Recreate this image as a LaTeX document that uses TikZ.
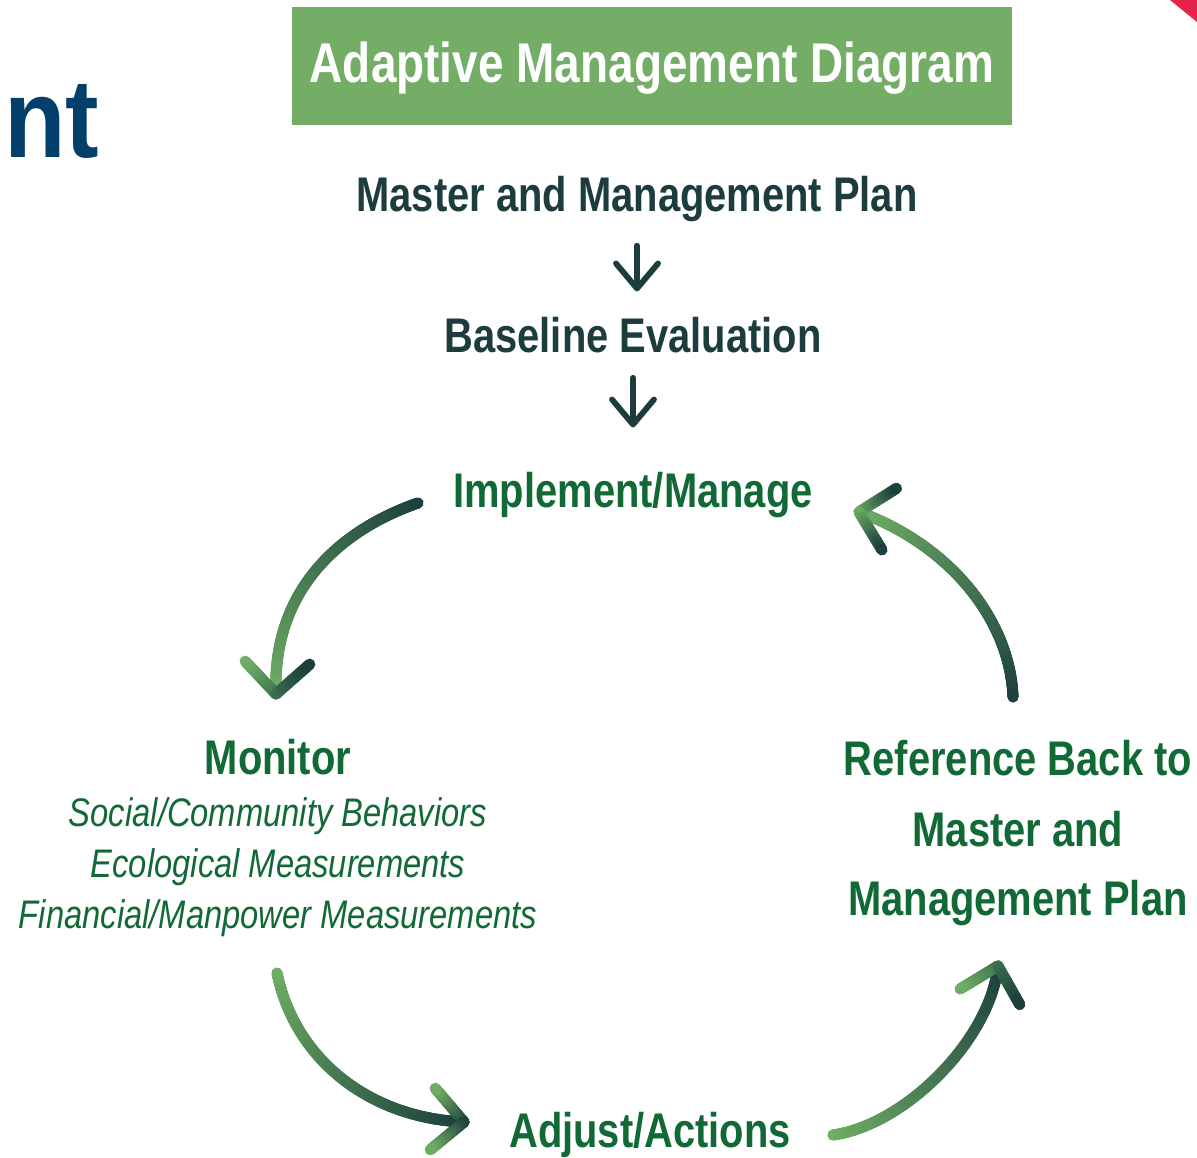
\documentclass[tikz,border=0pt]{standalone}
\usepackage{fontspec}
\setmainfont{Liberation Sans}
\newfontfamily\amnarrow{Liberation Sans}[FakeStretch=0.82]
\newfontfamily\amwide{Liberation Sans}[FakeStretch=0.9]
\usetikzlibrary{arrows.meta}
\usetikzlibrary{decorations.markings}
\definecolor{amink}{HTML}{1C3C3E}
\definecolor{amgreen}{HTML}{116A35}
\definecolor{amtitle}{HTML}{74AD66}
\definecolor{amnavy}{HTML}{023F6A}
\definecolor{amred}{HTML}{E8234A}
\definecolor{amdark}{HTML}{1B3F3D}
\definecolor{amlight}{HTML}{6FAE64}
\definecolor{ammid}{HTML}{3C6F4F}
\tikzset{
  amlabel/.style={anchor=base, inner sep=0pt,
    font=\amnarrow\bfseries\fontsize{27.7pt}{30pt}\selectfont},
  amhead/.style={amlabel, text=amink},
  amstep/.style={amlabel, text=amgreen},
  amitem/.style={anchor=base, inner sep=0pt, text=amgreen,
    font=\amnarrow\itshape\fontsize{22.7pt}{25pt}\selectfont},
  amsmall/.style={draw=amink, line width=3.3pt, line cap=round,
    -{Straight Barb[round, length=0.5cm, width=0.84cm]}},
  amgrad/.style 2 args={
    decorate, decoration={markings,
      mark=between positions 0 and 1 step 0.4pt with {
        \pgfmathtruncatemacro{\amp}{100*\pgfkeysvalueof{/pgf/decoration/mark info/distance from start}/\pgfdecoratedpathlength}
        \fill[#2!\amp!#1] (0,0) circle (3.2pt);
      }}},
}

\begin{document}
\begin{tikzpicture}[x=0.02cm, y=-0.02cm,
  amtitlebox/.style={fill=amtitle, text=white, inner sep=0pt,
    minimum width=14.4cm, minimum height=2.36cm,
    text height=0.8cm, text depth=0.12cm,
    font=\amnarrow\bfseries\fontsize{31.9pt}{34pt}\selectfont}]

\useasboundingbox (0,0) rectangle (1197,1158);
\fill[white] (0,0) rectangle (1197,1158);

% Page corner.
\node[anchor=base west, inner sep=0pt, text=amnavy,
  font=\amwide\bfseries\fontsize{63.7pt}{66pt}\selectfont]
  (heading) at (4,158) {nt};
\fill[amred] (1170,0) -- (1197,0) -- (1197,22) -- cycle;

% ------------------------------------------------------------ header
\node[amtitlebox] (title) at (652,66) {Adaptive Management Diagram};
\node[amhead] (master) at (637,212) {Master and Management Plan};
\node[amhead] (baseline) at (633,353) {Baseline Evaluation};
\node[amstep] (implement) at (633,508) {Implement/Manage};
\draw[amsmall, shorten <=0.46cm, shorten >=0.52cm]
  (master.south) -- (master.south |- baseline.north);
\draw[amsmall, shorten <=0.48cm, shorten >=0.9cm]
  (baseline.south) -- (baseline.south |- implement.north);

% ------------------------------------------------------------- cycle
\node[amstep] (monitor) at (278,774) {Monitor};
\node[amitem] (social) at (278,826) {Social/Community Behaviors};
\node[amitem] (ecological) at (278,877) {Ecological Measurements};
\node[amitem] (financial) at (278,928) {Financial/Manpower Measurements};
\node[amstep] (reference) at (1018,775) {Reference Back to};
\node[amstep] (referencemaster) at (1018,846) {Master and};
\node[amstep] (referenceplan) at (1018,915) {Management Plan};
\node[amstep] (adjust) at (650,1147) {Adjust/Actions};

% Implement -> Monitor.
\coordinate (im-s) at (418,503);
\coordinate (im-t) at (276,694);
\path[amgrad={amdark}{amlight}] (im-s) .. controls (340,530) and (272,590) .. (im-t);
\path[amgrad={ammid}{amlight}] (im-t) -- (245,661);
\path[amgrad={ammid}{amdark}] (im-t) -- (310,664);

% Reference -> Implement.
\coordinate (rf-s) at (1013,697);
\coordinate (rf-t) at (859,512);
\path[amgrad={amdark}{amlight}] (rf-s) .. controls (1010,620) and (950,545) .. (rf-t);
\path[amgrad={amlight}{amdark}] (rf-t) -- (897,488);
\path[amgrad={amlight}{amdark}] (rf-t) -- (882,550);

% Monitor -> Adjust.
\coordinate (mo-s) at (277,973);
\coordinate (mo-t) at (464,1122);
\path[amgrad={amlight}{amdark}] (mo-s) .. controls (295,1060) and (370,1118) .. (mo-t);
\path[amgrad={amdark}{amlight}] (mo-t) -- (435,1088);
\path[amgrad={amdark}{amlight}] (mo-t) -- (430,1150);

% Adjust -> Reference.
\coordinate (ad-s) at (833,1135);
\coordinate (ad-t) at (998,966);
\path[amgrad={amlight}{amdark}] (ad-s) .. controls (905,1125) and (990,1040) .. (ad-t);
\path[amgrad={ammid}{amlight}] (ad-t) -- (960,989);
\path[amgrad={ammid}{amdark}] (ad-t) -- (1020,1005);

\end{tikzpicture}
\end{document}
